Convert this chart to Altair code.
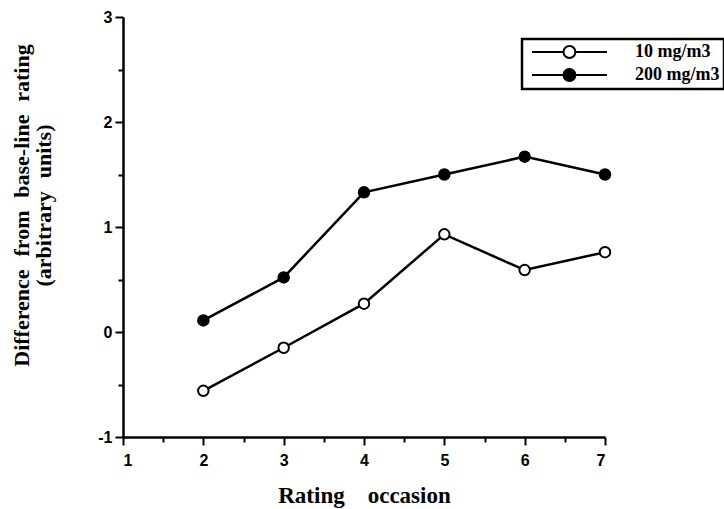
import altair as alt
import pandas as pd

# Rating occasions and mean change from base-line for each exposure level
occasions = [2, 3, 4, 5, 6, 7]
low_dose = [-0.56, -0.15, 0.27, 0.93, 0.59, 0.76]     # 10 mg/m3
high_dose = [0.11, 0.52, 1.33, 1.50, 1.67, 1.50]      # 200 mg/m3
series_names = ["10 mg/m3", "200 mg/m3"]

x_ticks = [1 + 0.5 * i for i in range(13)]
y_ticks = [-1 + 0.5 * i for i in range(9)]

df = pd.DataFrame({
    "occasion": occasions * 2,
    "value": low_dose + high_dose,
    "series": [series_names[0]] * len(occasions) + [series_names[1]] * len(occasions),
})

# Legend glyph: a short line with a circle in the middle (unit = 7 px at size 196)
legend_glyph = (
    "M-1,0H3.5 M5.2,0H9.71 "
    "M3.5,0A0.85,0.85 0 1,0 5.2,0A0.85,0.85 0 1,0 3.5,0Z"
)

# integer labels only; half-unit ticks stay unlabelled and shorter
int_label = "datum.value % 1 === 0 ? '' + datum.value : ''"
tick_len = {"condition": {"test": "datum.value % 1 !== 0", "value": 5}, "value": 8}

x_enc = alt.X(
    "occasion:Q",
    scale=alt.Scale(domain=[1, 7], nice=False, zero=False),
    axis=alt.Axis(
        values=x_ticks,
        labelExpr=int_label,
        tickSize=tick_len,
        labelPadding=7,
        title="Rating\u2003occasion",
        titleFontSize=23,
        titleX=241,
        titleY=65,
        titleBaseline="alphabetic",
        titleAlign="center",
    ),
)
y_enc = alt.Y(
    "value:Q",
    scale=alt.Scale(domain=[-1, 3], nice=False, zero=False),
    axis=alt.Axis(
        values=y_ticks,
        labelExpr=int_label,
        tickSize=tick_len,
        labelPadding=3,
        title=[
            "Difference\u2002\u200afrom\u2002\u200abase-line\u2002\u200arating",
            "(arbitrary\u2002\u200aunits)",
        ],
        titleFontSize=22,
        titleAngle=-90,
        titleX=-102,
        titleY=188,
        titleAlign="center",
        titleBaseline="middle",
        titleLineHeight=22,
    ),
)

lines = alt.Chart(df).mark_line(color="black", strokeWidth=2.5).encode(
    x=x_enc, y=y_enc, detail="series:N"
)

points = alt.Chart(df).mark_point(
    shape="circle", filled=True, stroke="black", strokeWidth=2, size=110, opacity=1
).encode(
    x=x_enc,
    y=y_enc,
    fill=alt.Fill(
        "series:N",
        scale=alt.Scale(domain=series_names, range=["white", "black"]),
        legend=alt.Legend(
            title=None,
            orient="none",
            legendX=399,
            legendY=22,
            symbolType=legend_glyph,
            symbolSize=196,
            symbolOffset=4,
            symbolStrokeColor="black",
            symbolStrokeWidth=2,
            labelOffset=87,
            labelFont="Liberation Serif",
            labelFontSize=18,
            labelFontWeight="bold",
            labelColor="black",
            rowPadding=3,
            padding=4,
            strokeColor="black",
            fillColor="white",
        ),
    ),
)

chart = (
    alt.layer(lines, points)
    .properties(
        width=482,
        height=420,
        autosize="none",
        padding={"left": 123, "top": 17, "right": 119, "bottom": 72},
        background="white",
    )
    .configure_view(stroke=None)
    .configure_legend(strokeWidth=2.5)
    .configure_axis(
        domainColor="black",
        domainWidth=2.5,
        tickColor="black",
        tickWidth=2,
        grid=False,
        labelFont="Liberation Sans",
        labelFontWeight="bold",
        labelFontSize=16,
        labelColor="black",
        titleFont="Liberation Serif",
        titleFontWeight="bold",
        titleColor="black",
    )
)

chart.save("out.html", embed_options={"renderer": "svg", "actions": False})
